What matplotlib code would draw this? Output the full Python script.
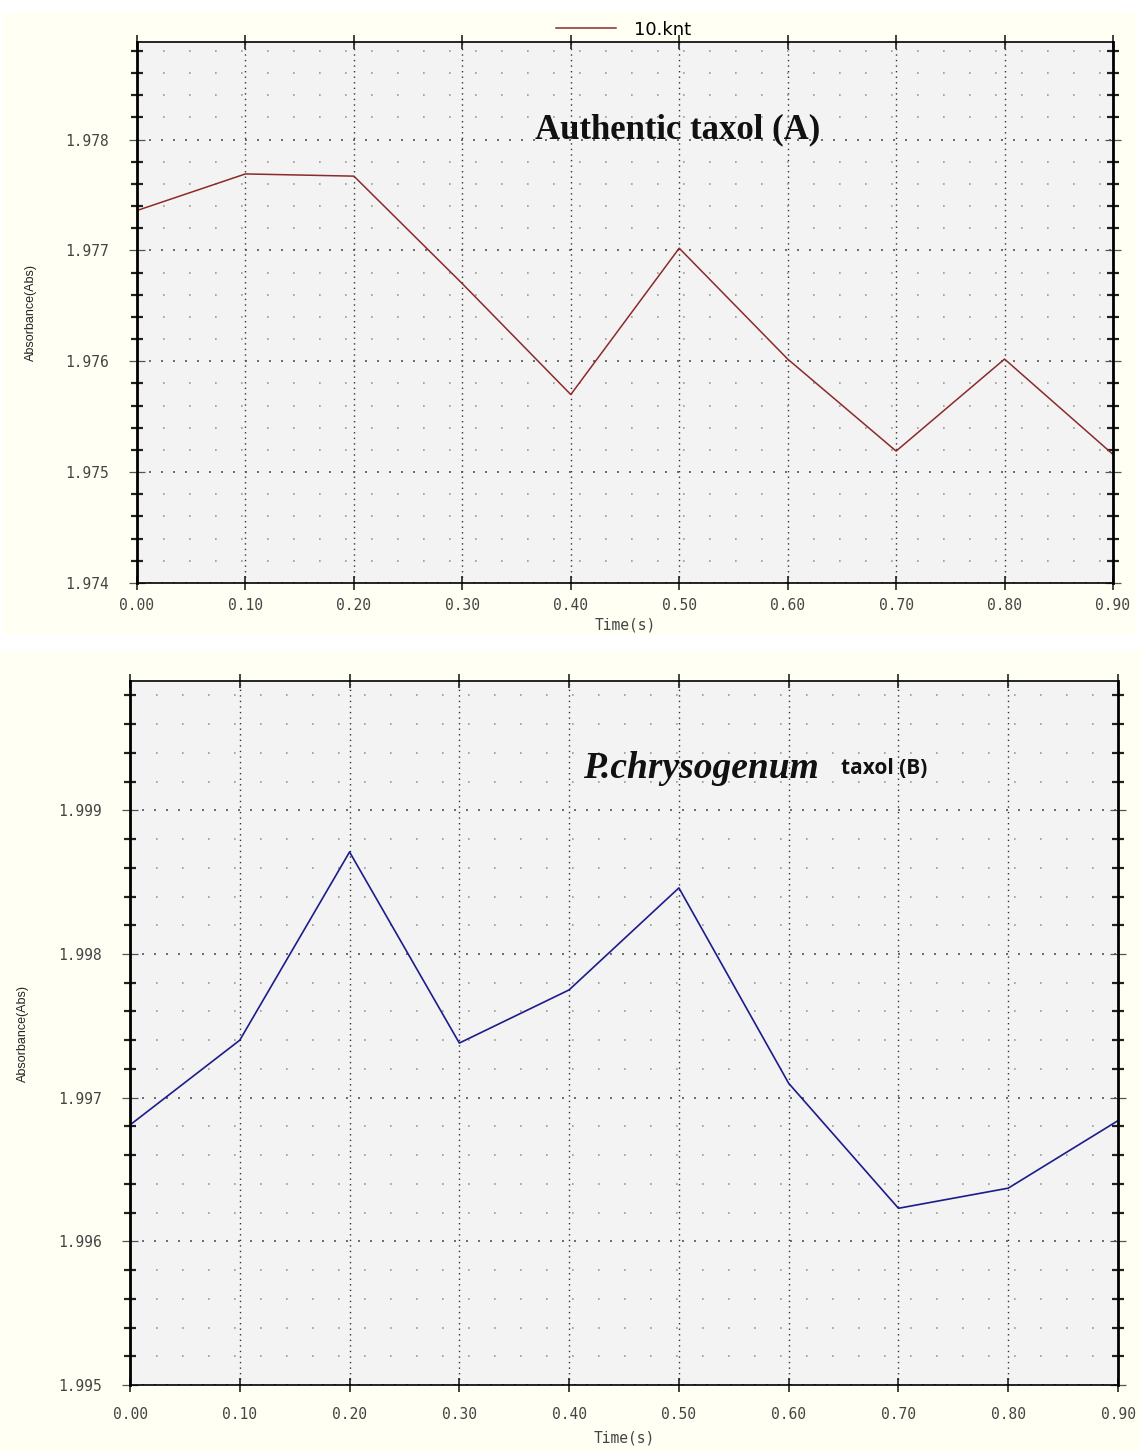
import matplotlib.pyplot as plt
from matplotlib.patches import Rectangle
from matplotlib.ticker import MultipleLocator, FormatStrFormatter

time_s = [0.0, 0.1, 0.2, 0.3, 0.4, 0.5, 0.6, 0.7, 0.8, 0.9]
abs_authentic = [1.97736, 1.97769, 1.97767, 1.97670, 1.97570, 1.97702, 1.97602, 1.97519, 1.97602, 1.97516]
abs_pchryso = [1.99681, 1.99740, 1.99871, 1.99738, 1.99775, 1.99846, 1.99710, 1.99623, 1.99637, 1.99684]

W, H = 1140, 1452
fig = plt.figure(figsize=(W / 100, H / 100), dpi=100)
fig.patch.set_facecolor('white')

# cream panels behind each chart
fig.patches.append(Rectangle((3 / W, 1 - 635 / H), 1132 / W, 623 / H, transform=fig.transFigure,
                             facecolor='#fffff3', edgecolor='none', zorder=-10))
fig.patches.append(Rectangle((0, 0), 1, 1 - 650 / H, transform=fig.transFigure,
                             facecolor='#fffff3', edgecolor='none', zorder=-10))

ax1 = fig.add_axes([137 / W, 1 - 583 / H, 976 / W, 541 / H])
ax2 = fig.add_axes([130 / W, 1 - 1385 / H, 988 / W, 704 / H])

tick_font = dict(family='DejaVu Sans Mono', size=10.5, color='#444444')


def style_axis(ax, ylim, ymaj, ymin, xpad, xlabelpad):
    ax.set_facecolor('#f3f3f4')
    ax.set_xlim(0, 0.9)
    ax.set_ylim(*ylim)
    ax.xaxis.set_major_locator(MultipleLocator(0.1))
    ax.xaxis.set_minor_locator(MultipleLocator(0.02))
    ax.yaxis.set_major_locator(MultipleLocator(ymaj))
    ax.yaxis.set_minor_locator(MultipleLocator(ymin))
    ax.xaxis.set_major_formatter(FormatStrFormatter('%.2f'))
    ax.yaxis.set_major_formatter(FormatStrFormatter('%.3f'))
    for lab in ax.get_xticklabels() + ax.get_yticklabels():
        lab.set_fontfamily(tick_font['family'])
        lab.set_fontsize(tick_font['size'])
        lab.set_color(tick_font['color'])
    ax.tick_params(axis='y', which='major', direction='inout', length=12, width=0.9,
                   color='#555555', left=True, right=True, pad=14)
    ax.tick_params(axis='y', which='minor', direction='inout', length=8, width=1.6,
                   color='#222222', left=True, right=True)
    ax.tick_params(axis='x', which='major', direction='inout', length=10, width=1.2,
                   color='#222222', top=True, bottom=True, pad=xpad)
    ax.tick_params(axis='x', which='minor', length=0)
    ax.spines['left'].set_linewidth(2.0)
    ax.spines['right'].set_linewidth(2.0)
    ax.spines['top'].set_linewidth(1.2)
    ax.spines['bottom'].set_linewidth(1.2)
    ax.grid(which='major', axis='x', color='#333333', linestyle=(0, (1, 3)), linewidth=1.0)
    ax.grid(which='major', axis='y', color='#555555', linestyle=(0, (1.2, 6)), linewidth=1.2)
    ax.grid(which='minor', axis='y', color='#999999', linestyle=(0, (1, 14.6)), linewidth=1.2)
    ax.set_xlabel('Time(s)', fontfamily='DejaVu Sans Mono', fontsize=10.5, color='#444444',
                  labelpad=xlabelpad)
    ax.set_ylabel('Absorbance(Abs)', fontfamily='Liberation Sans', fontsize=9, color='#222222')


style_axis(ax1, (1.974, 1.97888), 0.001, 0.0002, 6, 3)
style_axis(ax2, (1.995, 1.9999), 0.001, 0.0002, 11, 6)
ax1.yaxis.set_label_coords(-0.102, 0.5)
ax2.yaxis.set_label_coords(-0.102, 0.5)

ax1.plot(time_s, abs_authentic, color='#8b2a2a', linewidth=1.1, label='10.knt')
ax2.plot(time_s, abs_pchryso, color='#1c1c8a', linewidth=1.2)

ax1.text(0.554, 0.837, 'Authentic taxol (A)', transform=ax1.transAxes, ha='center', va='center',
         fontfamily='Liberation Serif', fontweight='bold', fontsize=25, color='#111111')
ax2.text(0.697, 0.876, 'P.chrysogenum', transform=ax2.transAxes, ha='right', va='center',
         fontfamily='Liberation Serif', fontweight='bold', fontstyle='italic', fontsize=27, color='#111111')
ax2.text(0.72, 0.876, 'taxol (B)', transform=ax2.transAxes, ha='left', va='center',
         fontfamily='Open Sans', fontweight='bold', fontsize=15, color='#111111')

fig.legend(loc='upper center', bbox_to_anchor=(0.547, 0.997), frameon=False, handlelength=3.3,
           handletextpad=1.0, prop={'family': 'DejaVu Sans', 'size': 13})

plt.savefig('out.png', dpi=100)
